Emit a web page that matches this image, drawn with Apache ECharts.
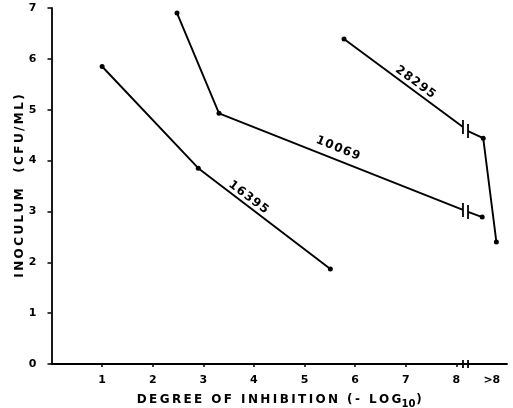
<!DOCTYPE html>
<html>
<head>
<meta charset="utf-8">
<script src="https://cdn.jsdelivr.net/npm/echarts@6/dist/echarts.min.js"></script>
<style>
html,body{margin:0;padding:0;background:#fff;}
#main{width:513px;height:408px;}
</style>
</head>
<body>
<div id="main"></div>
<script>
// data (x = degree of inhibition, y = inoculum log cfu/ml)
var breakX = [8.13, 8.23];
var s16395 = [[1.0,5.85],[2.90,3.85],[5.51,1.87]];
var s10069a = [[2.48,6.90],[3.31,4.93],[8.13,3.03]];
var s10069b = [[8.23,2.99],[8.51,2.89]];
var s28295a = [[5.78,6.39],[8.13,4.66]];
var s28295b = [[8.23,4.58],[8.53,4.44],[8.79,2.40]];
// where the break bars sit: [x1,y1,x2,y2,halfHeight]
var breakMarks = [[8.13,4.66,8.23,4.58,7],[8.13,3.03,8.23,2.99,7],[8.13,0,8.23,0,4]];
var xTicks = [1,2,3,4,5,6,7,8];
var xLabelVals = [1,2,3,4,5,6,7,8,8.7];
var lineNames = ['16395','10069','28295'];
var namePos = [[3.89,3.28],[5.66,4.24],[7.19,5.54]];
var nameRot = [-37,-22,-36];

var font = 'DejaVu Sans';
var myChart = echarts.init(document.getElementById('main'));

// fake letter spacing (lettering in the scan is wide)
function spaced(s, sep){
    return s.split('').join(sep || '\u2009');
}
function pts(arr){
    return arr.map(function(p){
        var isBreak = breakX.indexOf(p[0]) >= 0;
        return isBreak ? {value:p, symbol:'none'} : {value:p};
    });
}
function lineSeries(arr){
    return {
        type:'line', data:pts(arr), symbol:'circle', symbolSize:5,
        showSymbol:true, silent:true, animation:false,
        lineStyle:{color:'#000', width:1.9},
        itemStyle:{color:'#000'}
    };
}

var option = {
    animation:false,
    grid:{left:51.5, right:6, top:8, bottom:44, containLabel:false, outerBoundsMode:'none'},
    xAxis:{
        type:'value', min:0, max:9,
        name:'{t|' + spaced('DEGREE OF INHIBITION (- LOG') + '}{s|10}{t|)}',
        nameLocation:'middle', nameGap:27, nameMoveOverlap:false,
        nameTextStyle:{rich:{
            t:{fontFamily:font, fontWeight:'bold', fontSize:12, color:'#000'},
            s:{fontFamily:font, fontWeight:'bold', fontSize:10, color:'#000', padding:[8,1,0,0]}
        }},
        axisLine:{lineStyle:{color:'#000', width:1.8}},
        axisTick:{show:true, length:3, customValues:xTicks, lineStyle:{color:'#000', width:1.5}},
        axisLabel:{customValues:xLabelVals, color:'#000', fontFamily:font, fontWeight:'bold', fontSize:11, margin:11,
            formatter:function(v){ return v > 8.5 ? '>8' : String(v); }},
        splitLine:{show:false}
    },
    yAxis:{
        type:'value', min:0, max:7, interval:1,
        name:spaced('INOCULUM  (CFU/ML)'),
        nameLocation:'middle', nameGap:26, nameRotate:90, nameMoveOverlap:false,
        nameTextStyle:{fontFamily:font, fontWeight:'bold', fontSize:12, color:'#000'},
        axisLine:{show:true, lineStyle:{color:'#000', width:1.8}},
        axisTick:{show:true, length:4, lineStyle:{color:'#000', width:1.5}},
        axisLabel:{color:'#000', fontFamily:font, fontWeight:'bold', fontSize:11, margin:15},
        splitLine:{show:false}
    },
    series:[
        lineSeries(s16395),
        lineSeries(s10069a),
        lineSeries(s10069b),
        lineSeries(s28295a),
        lineSeries(s28295b),
        {
            type:'custom', clip:false, silent:true,
            data:breakMarks,
            renderItem:function(params, api){
                var a = api.coord([api.value(0), api.value(1)]);
                var b = api.coord([api.value(2), api.value(3)]);
                var h = api.value(4);
                var st = {stroke:'#000', lineWidth:1.8};
                return {type:'group', children:[
                    {type:'line', shape:{x1:a[0], y1:a[1]-h, x2:a[0], y2:a[1]+h}, style:st},
                    {type:'line', shape:{x1:b[0], y1:b[1]-h, x2:b[0], y2:b[1]+h}, style:st}
                ]};
            }
        },
        {
            type:'scatter', silent:true, symbolSize:0,
            itemStyle:{opacity:1},
            data:namePos.map(function(p, i){
                return {value:p, label:{show:true, formatter:spaced(lineNames[i], '\u200A'), rotate:nameRot[i], position:'inside',
                    color:'#000', opacity:1, fontFamily:font, fontWeight:'bold', fontSize:12}};
            })
        }
    ]
};
myChart.setOption(option);
</script>
</body>
</html>
